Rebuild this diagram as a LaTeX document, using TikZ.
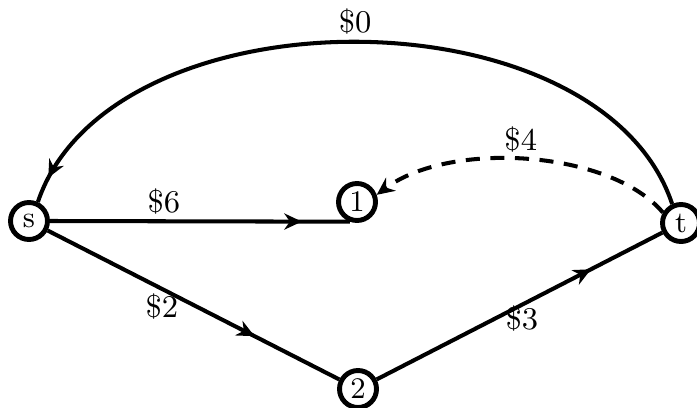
\documentclass[tikz,border=0pt]{standalone}
\usetikzlibrary{arrows.meta,decorations.markings,positioning}
\begin{document}
\begin{tikzpicture}[x=1cm,y=1cm,
    vertex/.style={circle,draw,line width=1.4pt,minimum size=0.37cm,inner sep=0pt,font=\fontsize{8.5}{10}\selectfont},
    edge/.style={line width=1.15pt},
    cost/.style={font=\fontsize{9}{11}\selectfont,inner sep=1.5pt},
    midarrow/.style={postaction={decorate},decoration={markings,
      mark=at position #1 with {\arrow{Stealth[length=5pt,width=4.6pt,inset=1.6pt]}}}}]
    \useasboundingbox (0,0) rectangle (6.97,4.07);
    \node[vertex] (s) at (0.29,1.86) {s};
    \node[vertex] (n1) at (3.57,2.05) {1};
    \node[vertex] (t) at (6.81,1.84) {t};
    \node[vertex] (n2) at (3.58,0.18) {2};
    \draw[edge,midarrow=0.84] (s.east) -- node[cost,pos=0.38,above] {\$6} (n1.250);
    \draw[edge,midarrow=0.71] (s) -- node[cost,pos=0.40,below left=-1pt and -6pt] {\$2} (n2);
    \draw[edge,midarrow=0.75] (n2) -- node[cost,pos=0.50,below right=-2pt and -6pt] {\$3} (t);
    \draw[edge,midarrow=0.965]
      (t.115) .. controls (6.00,4.19) and (1.10,4.19) ..
      node[cost,pos=0.5,above] {\$0} (s.65);
    \draw[edge,dash pattern=on 4pt off 3pt,-{Stealth[length=5pt,width=4.6pt,inset=1.6pt]}]
      (t.150) .. controls (6.10,2.57) and (4.50,2.67) ..
      node[cost,pos=0.52,above] {\$4} (n1.20);
\end{tikzpicture}
\end{document}
